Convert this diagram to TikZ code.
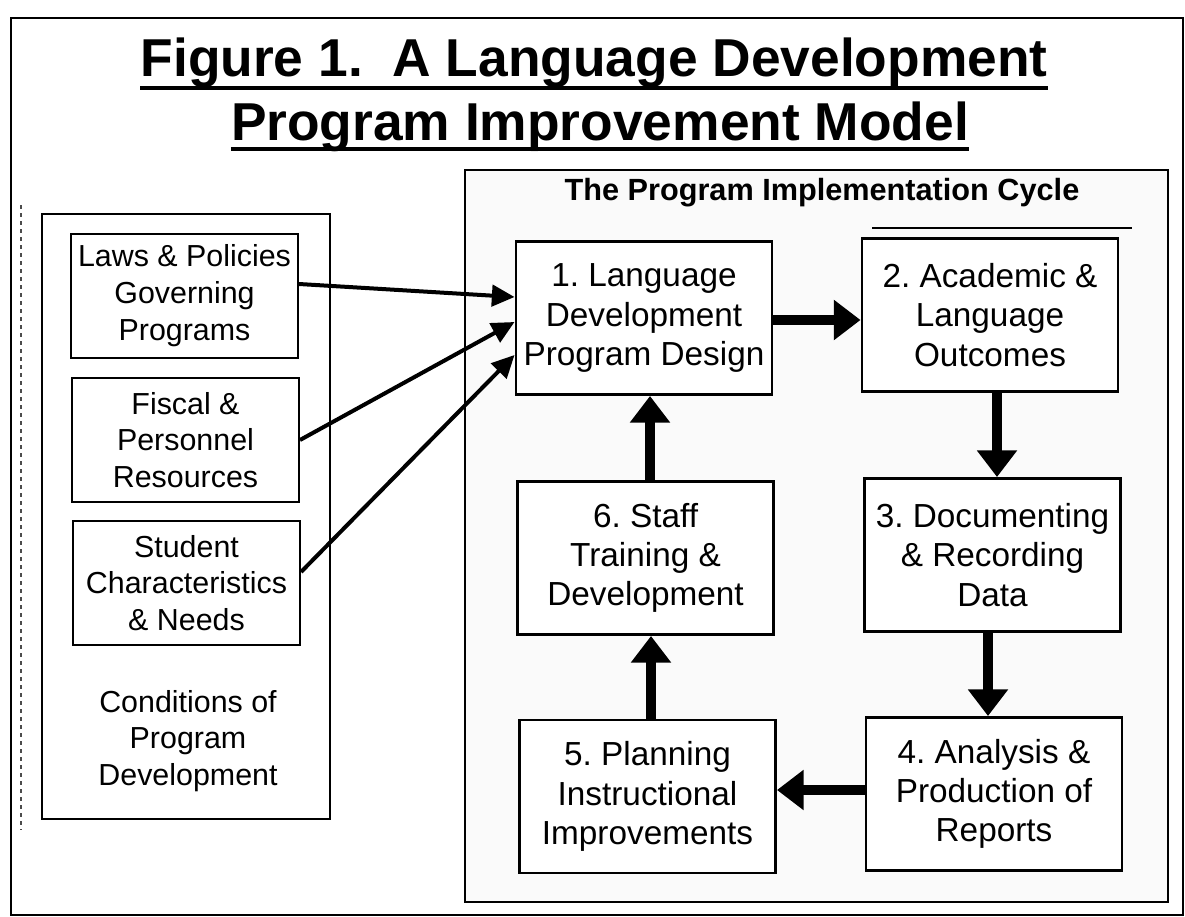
\documentclass[tikz,border=0pt]{standalone}
\usepackage{fontspec}
\setmainfont{Liberation Sans}
\usetikzlibrary{arrows.meta}
\frenchspacing
\begin{document}
\begin{tikzpicture}[x=0.75pt,y=-0.75pt,
  cycbox/.style={draw,line width=2.2pt,minimum width=192pt,minimum height=114.75pt,
    align=center,inner sep=0pt,fill=white,font=\fontsize{25}{29.5}\selectfont},
  condbox/.style={draw,line width=1.5pt,minimum width=170.25pt,minimum height=93pt,
    align=center,inner sep=0pt,fill=white,font=\fontsize{22.8}{27.5}\selectfont},
  thickarrow/.style={line width=7.5pt,-{Triangle[length=20pt,width=29pt]}},
  thinarrow/.style={line width=3pt,-{Triangle[length=17pt,width=16pt]}},
  panel/.style={line width=1.2pt},
]
\useasboundingbox (0,0) rectangle (1185,917);
% outer frame
\draw[line width=1.5pt] (11,18) rectangle (1183,915);
\draw[line width=0.8pt,dashed,black!70] (21,205) -- (21,830);
% title
\node[anchor=base,inner sep=0pt,font=\fontsize{40}{48}\selectfont\bfseries] (t1) at (594,77) {Figure 1.\ \ A Language Development};
\node[anchor=base,inner sep=0pt,font=\fontsize{40}{48}\selectfont\bfseries] (t2) at (600,140) {Program Improvement Model};
\draw[line width=3pt] ([yshift=-8.25pt]t1.base west) -- ([yshift=-8.25pt]t1.base east);
\draw[line width=3pt] ([yshift=-7pt]t2.base west) -- ([yshift=-7pt]t2.base east);
% left panel
\draw[panel] (42,214) rectangle (330,819);
\node[condbox] (laws) at (184.5,295.5) {Laws \& Policies\\Governing\\Programs};
\node[condbox] (fiscal) at (185.5,440) {Fiscal \&\\Personnel\\Resources};
\node[condbox] (student) at (186.5,583) {Student\\Characteristics\\\& Needs};
\node[align=center,inner sep=0pt,font=\fontsize{22.8}{27.5}\selectfont] (cond) at (188,741) {Conditions of\\Program\\Development};
% right panel
\draw[panel,fill=black!2] (465,170) rectangle (1168,902);
\node[anchor=base,inner sep=0pt,font=\fontsize{23}{27}\selectfont\bfseries] (hdr) at (822,200) {The Program Implementation Cycle};
\draw[line width=1.2pt] (872,228) coordinate (h1) -- (1132,228) coordinate (h2);
% cycle boxes
\node[cycbox] (b1) at (644,318) {1. Language\\Development\\Program Design};
\node[cycbox] (b2) at (990,315) {2. Academic \&\\Language\\Outcomes};
\node[cycbox] (b3) at (992.5,555) {3. Documenting\\\& Recording\\Data};
\node[cycbox] (b4) at (994,794) {4. Analysis \&\\Production of\\Reports};
\node[cycbox] (b5) at (647.5,796.5) {5. Planning\\Instructional\\Improvements};
\node[cycbox] (b6) at (645.5,558) {6. Staff\\Training \&\\Development};
% cycle arrows
\draw[thickarrow] (b1.east |- 0,320) -- (b2.west |- 0,320);
\draw[thickarrow] (b2.south -| 997,0) -- (b3.north -| 997,0);
\draw[thickarrow] (b3.south -| 988,0) -- (b4.north -| 988,0);
\draw[thickarrow] (b4.west |- 0,790) -- (b5.east |- 0,790);
\draw[thickarrow] (b5.north -| 651,0) -- (b6.south -| 651,0);
\draw[thickarrow] (b6.north -| 650,0) -- (b1.south -| 650,0);
% condition arrows
\draw[thinarrow] (laws.east |- 0,284) -- (b1.west |- 0,297);
\draw[thinarrow] (fiscal.east |- 0,440) -- (b1.west |- 0,322);
\draw[thinarrow] (student.east |- 0,572) -- (b1.west |- 0,355);
\end{tikzpicture}
\end{document}
